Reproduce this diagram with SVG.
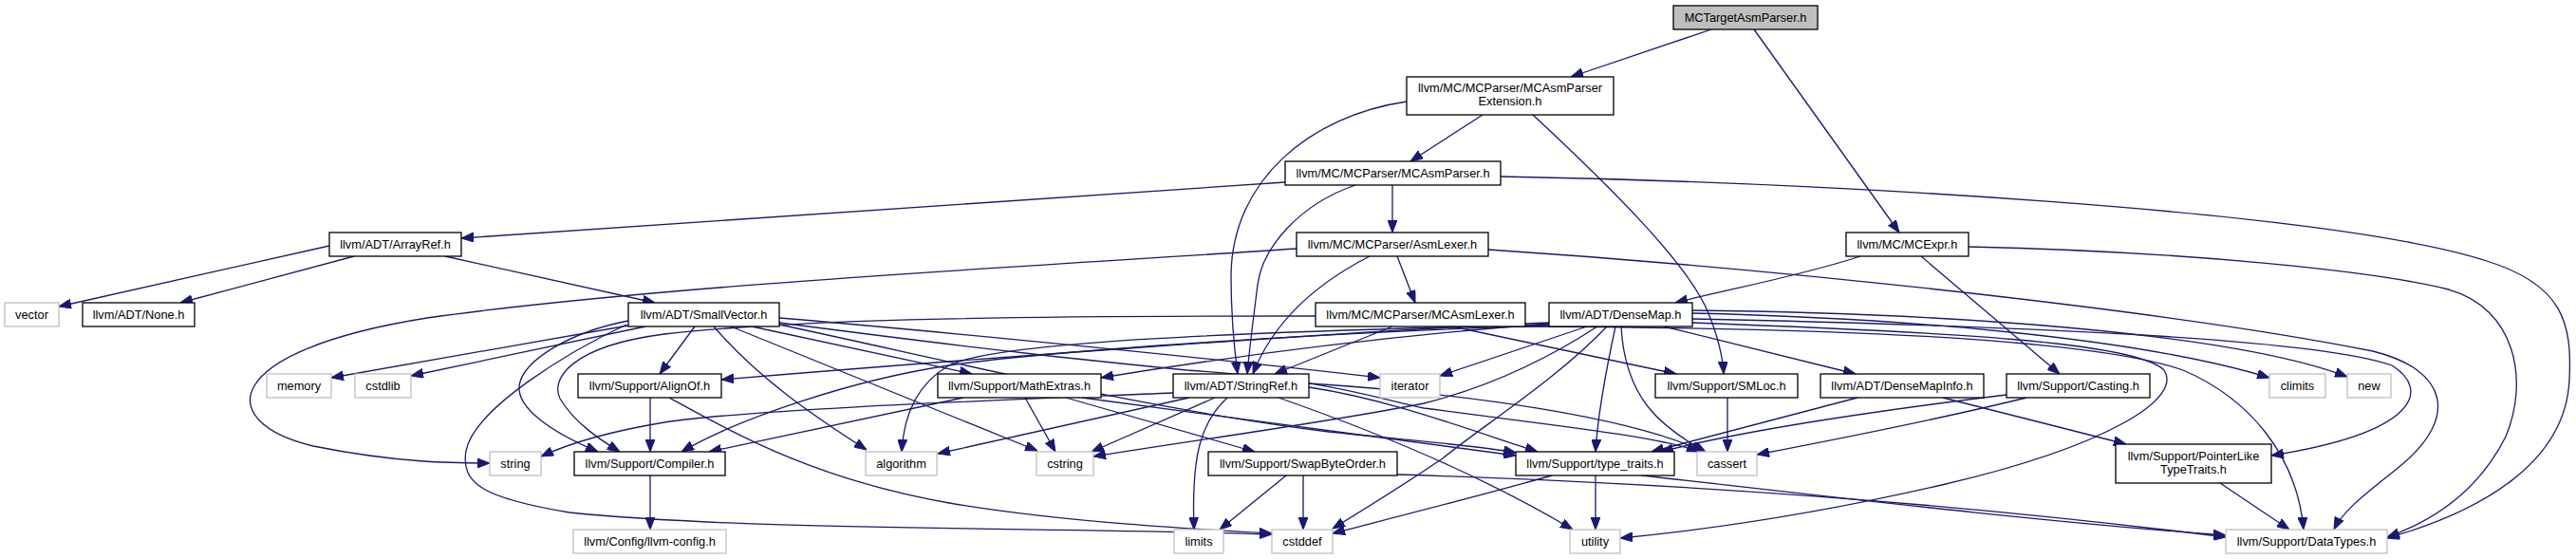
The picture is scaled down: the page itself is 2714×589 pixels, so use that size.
<svg xmlns="http://www.w3.org/2000/svg" width="2714" height="589" viewBox="0 0 2714 589">
<style>
.e{fill:none;stroke:#191970;stroke-width:1.3;marker-end:url(#a)}
.n rect{fill:#fff;stroke:#000;stroke-width:1.3}
.x rect{fill:#fff;stroke:#bfbfbf;stroke-width:1.3}
.r rect{fill:#bfbfbf;stroke:#000;stroke-width:1.3}
text{font-family:"Liberation Sans",Arial,sans-serif;font-size:12.8px;fill:#000;text-anchor:middle}
</style>
<defs>
<marker id="a" viewBox="0 0 13 10" refX="13" refY="5" markerWidth="13" markerHeight="10" markerUnits="userSpaceOnUse" orient="auto">
<path d="M0,0 L13,5 L0,10 z" fill="#191970" stroke="#191970" stroke-width="1"/>
</marker>
</defs>
<rect width="2714" height="589" fill="#fff"/>
<g id="edges">
<path class="e" d="M1803,31 L1655,81"/>
<path class="e" d="M1848,31 L2001,245"/>
<path class="e" d="M1562,121 L1486,170"/>
<path class="e" d="M1482,107 C1380,122 1298,190 1297,290 C1297,330 1300,365 1304,394"/>
<path class="e" d="M1615,121 C1700,200 1780,280 1800,330 C1810,355 1815,375 1816,394"/>
<path class="e" d="M1354,192 C1000,215 700,235 486,251"/>
<path class="e" d="M1467,195 L1467,245"/>
<path class="e" d="M1428,195 C1370,215 1330,260 1325,300 C1320,340 1316,370 1314,394"/>
<path class="e" d="M1581,186 C1900,192 2450,220 2620,275 C2700,300 2710,340 2707,400 C2703,490 2610,540 2515,567"/>
<path class="e" d="M1472,270 L1491,319"/>
<path class="e" d="M1443,270 C1400,292 1345,330 1320,394"/>
<path class="e" d="M1568,263 C1900,285 2300,330 2500,370 C2580,390 2590,440 2530,490 C2500,515 2470,535 2459,558"/>
<path class="e" d="M1366,262 C1100,280 700,300 450,335 C230,370 225,445 330,470 C420,488 480,488 516,488"/>
<path class="e" d="M1960,270 C1900,290 1820,305 1765,319"/>
<path class="e" d="M2024,270 L2170,394"/>
<path class="e" d="M2074,260 C2300,265 2500,285 2580,305 C2650,325 2665,400 2640,460 C2610,520 2560,550 2515,566"/>
<path class="e" d="M347,259 L62,323"/>
<path class="e" d="M373,270 L190,319"/>
<path class="e" d="M469,270 L690,319"/>
<path class="e" d="M1467,344 L1343,394"/>
<path class="e" d="M1530,344 L1766,394"/>
<path class="e" d="M1386,333 C1100,333 850,335 700,352 C600,365 580,400 590,420 C605,445 630,462 653,476"/>
<path class="e" d="M1600,344 C1900,345 2200,355 2300,390 C2370,420 2420,480 2427,558"/>
<path class="e" d="M662,343 L349,398"/>
<path class="e" d="M680,344 L433,396"/>
<path class="e" d="M732,344 L695,394"/>
<path class="e" d="M662,338 C600,350 550,380 547,407 C545,430 580,455 630,476"/>
<path class="e" d="M752,344 C800,400 860,440 913,474"/>
<path class="e" d="M770,344 L1093,475"/>
<path class="e" d="M792,344 L1024,394"/>
<path class="e" d="M821,335 C1000,350 1300,380 1454,398"/>
<path class="e" d="M821,340 C1050,370 1150,380 1250,390 C1400,400 1450,420 1500,430 C1650,450 1750,460 1790,476"/>
<path class="e" d="M821,342 C1000,380 1200,430 1400,455 C1500,465 1560,470 1597,477"/>
<path class="e" d="M660,342 C600,370 500,430 491,475 C485,510 510,525 600,540 C800,560 1100,555 1340,563"/>
<path class="e" d="M685,419 L685,476"/>
<path class="e" d="M705,419 C780,460 860,505 1000,530 C1120,550 1250,557 1340,562"/>
<path class="e" d="M685,501 L685,558"/>
<path class="e" d="M1015,419 L747,476"/>
<path class="e" d="M1080,419 L1112,476"/>
<path class="e" d="M1123,419 L1322,476"/>
<path class="e" d="M1140,419 C1300,440 1450,460 1597,480"/>
<path class="e" d="M1253,419 L988,478"/>
<path class="e" d="M1280,419 L1150,476"/>
<path class="e" d="M1293,419 C1265,445 1255,480 1258,558"/>
<path class="e" d="M1236,414 C1100,420 800,430 700,445 C640,455 600,467 570,481"/>
<path class="e" d="M1347,419 C1450,455 1560,500 1657,558"/>
<path class="e" d="M1379,408 C1460,420 1540,450 1620,476"/>
<path class="e" d="M1379,404 C1550,415 1720,440 1795,476"/>
<path class="e" d="M1753,344 L1955,394"/>
<path class="e" d="M1632,340 C1400,350 1000,380 760,400"/>
<path class="e" d="M1632,343 C1400,350 1100,370 1000,385 C900,400 780,440 718,476"/>
<path class="e" d="M1632,341 C1450,355 1300,375 1160,398"/>
<path class="e" d="M1632,342 C1300,350 1050,360 1000,385 C965,405 952,440 950,476"/>
<path class="e" d="M1672,344 L1517,396"/>
<path class="e" d="M1683,344 C1620,385 1560,410 1500,425 C1400,445 1250,465 1152,481"/>
<path class="e" d="M1693,344 C1640,400 1560,450 1520,483 C1480,510 1440,535 1404,557"/>
<path class="e" d="M1702,344 C1690,400 1683,440 1681,476"/>
<path class="e" d="M1708,344 C1712,420 1750,450 1797,476"/>
<path class="e" d="M1783,330 C2000,335 2250,355 2391,398"/>
<path class="e" d="M1783,327 C2050,330 2350,350 2473,397"/>
<path class="e" d="M1783,336 C2200,345 2450,360 2520,385 C2560,410 2550,455 2393,480"/>
<path class="e" d="M1783,340 C2050,350 2250,360 2280,390 C2300,420 2220,470 2050,510 C1900,545 1780,560 1707,567"/>
<path class="e" d="M1820,419 L1820,476"/>
<path class="e" d="M2047,419 L2240,468"/>
<path class="e" d="M1957,419 L1740,476"/>
<path class="e" d="M2114,416 C2000,430 1850,450 1750,476"/>
<path class="e" d="M2135,419 C2050,440 1950,460 1851,479"/>
<path class="e" d="M1355,501 L1285,558"/>
<path class="e" d="M1373,501 L1373,558"/>
<path class="e" d="M1472,500 C1800,510 2100,535 2345,566"/>
<path class="e" d="M1730,501 C1900,520 2150,550 2345,564"/>
<path class="e" d="M1635,501 C1550,525 1450,550 1404,562"/>
<path class="e" d="M1681,501 L1681,558"/>
<path class="e" d="M2339,509 L2412,558"/>
</g>
<g id="n0" class="r"><rect x="1763" y="6" width="152" height="25"/><text x="1839" y="23">MCTargetAsmParser.h</text></g>
<g id="n1" class="n"><rect x="1482" y="81" width="218" height="40"/><text x="1591" y="97">llvm/MC/MCParser/MCAsmParser</text><text x="1591" y="111">Extension.h</text></g>
<g id="n2" class="n"><rect x="1354" y="170" width="227" height="25"/><text x="1467.5" y="187">llvm/MC/MCParser/MCAsmParser.h</text></g>
<g id="n3" class="n"><rect x="1366" y="245" width="202" height="25"/><text x="1467" y="262">llvm/MC/MCParser/AsmLexer.h</text></g>
<g id="n4" class="n"><rect x="1945" y="245" width="129" height="25"/><text x="2009.5" y="262">llvm/MC/MCExpr.h</text></g>
<g id="n5" class="n"><rect x="347" y="245" width="139" height="25"/><text x="416.5" y="262">llvm/ADT/ArrayRef.h</text></g>
<g id="n6" class="x"><rect x="5" y="319" width="57" height="25"/><text x="33.5" y="336">vector</text></g>
<g id="n7" class="n"><rect x="87" y="319" width="118" height="25"/><text x="146" y="336">llvm/ADT/None.h</text></g>
<g id="n8" class="n"><rect x="662" y="319" width="159" height="25"/><text x="741.5" y="336">llvm/ADT/SmallVector.h</text></g>
<g id="n9" class="n"><rect x="1386" y="319" width="221" height="25"/><text x="1496.5" y="336">llvm/MC/MCParser/MCAsmLexer.h</text></g>
<g id="n10" class="n"><rect x="1632" y="319" width="151" height="25"/><text x="1707.5" y="336">llvm/ADT/DenseMap.h</text></g>
<g id="n11" class="x"><rect x="281" y="394" width="68" height="25"/><text x="315" y="411">memory</text></g>
<g id="n12" class="x"><rect x="374" y="394" width="59" height="25"/><text x="403.5" y="411">cstdlib</text></g>
<g id="n13" class="n"><rect x="609" y="394" width="151" height="25"/><text x="684.5" y="411">llvm/Support/AlignOf.h</text></g>
<g id="n14" class="n"><rect x="988" y="394" width="172" height="25"/><text x="1074" y="411">llvm/Support/MathExtras.h</text></g>
<g id="n15" class="n"><rect x="1236" y="394" width="143" height="25"/><text x="1307.5" y="411">llvm/ADT/StringRef.h</text></g>
<g id="n16" class="x"><rect x="1454" y="394" width="63" height="25"/><text x="1485.5" y="411">iterator</text></g>
<g id="n17" class="n"><rect x="1744" y="394" width="150" height="25"/><text x="1819" y="411">llvm/Support/SMLoc.h</text></g>
<g id="n18" class="n"><rect x="1918" y="394" width="172" height="25"/><text x="2004" y="411">llvm/ADT/DenseMapInfo.h</text></g>
<g id="n19" class="n"><rect x="2114" y="394" width="151" height="25"/><text x="2189.5" y="411">llvm/Support/Casting.h</text></g>
<g id="n20" class="x"><rect x="2391" y="394" width="59" height="25"/><text x="2420.5" y="411">climits</text></g>
<g id="n21" class="x"><rect x="2473" y="394" width="46" height="25"/><text x="2496" y="411">new</text></g>
<g id="n22" class="x"><rect x="516" y="476" width="54" height="25"/><text x="543" y="493">string</text></g>
<g id="n23" class="n"><rect x="605" y="476" width="159" height="25"/><text x="684.5" y="493">llvm/Support/Compiler.h</text></g>
<g id="n24" class="x"><rect x="912" y="476" width="75" height="25"/><text x="949.5" y="493">algorithm</text></g>
<g id="n25" class="x"><rect x="1092" y="476" width="60" height="25"/><text x="1122" y="493">cstring</text></g>
<g id="n26" class="n"><rect x="1273" y="476" width="199" height="25"/><text x="1372.5" y="493">llvm/Support/SwapByteOrder.h</text></g>
<g id="n27" class="n"><rect x="1597" y="476" width="167" height="25"/><text x="1680.5" y="493">llvm/Support/type_traits.h</text></g>
<g id="n28" class="x"><rect x="1788" y="476" width="63" height="25"/><text x="1819.5" y="493">cassert</text></g>
<g id="n29" class="n"><rect x="2229" y="468" width="164" height="41"/><text x="2311" y="485">llvm/Support/PointerLike</text><text x="2311" y="499">TypeTraits.h</text></g>
<g id="n30" class="x"><rect x="604" y="558" width="161" height="25"/><text x="684.5" y="575">llvm/Config/llvm-config.h</text></g>
<g id="n31" class="x"><rect x="1237" y="558" width="52" height="25"/><text x="1263" y="575">limits</text></g>
<g id="n32" class="x"><rect x="1340" y="558" width="64" height="25"/><text x="1372" y="575">cstddef</text></g>
<g id="n33" class="x"><rect x="1654" y="558" width="53" height="25"/><text x="1680.5" y="575">utility</text></g>
<g id="n34" class="x"><rect x="2345" y="558" width="170" height="25"/><text x="2430" y="575">llvm/Support/DataTypes.h</text></g>
</svg>
